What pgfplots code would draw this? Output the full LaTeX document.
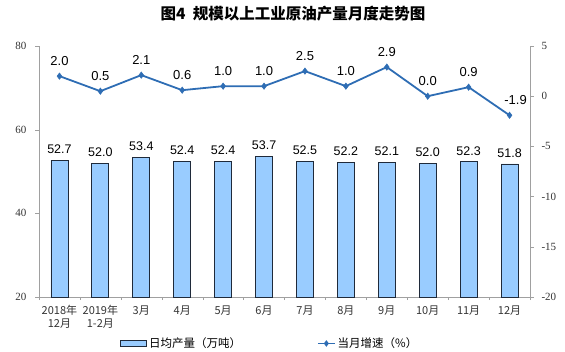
\documentclass[border=0pt]{standalone}
\usepackage{pgfplots}
\pgfplotsset{compat=1.18}
\usepackage{fontspec}
\setmainfont{Liberation Serif}
\newfontfamily\cjk{Noto Sans CJK SC}
\newfontfamily\arial{Liberation Sans}
\definecolor{barfill}{HTML}{99CCFF}
\definecolor{baredge}{HTML}{1F2A3A}
\definecolor{linec}{HTML}{2E6DB4}
\definecolor{axgray}{HTML}{A0A0A0}
\begin{document}
\begin{tikzpicture}[x=1pt,y=1pt]
\path[use as bounding box] (-39,-54) rectangle (526,297);
\begin{axis}[
  at={(0,0)}, anchor=south west,
  scale only axis, width=491pt, height=251pt,
  xmin=-0.5, xmax=11.5, ymin=20, ymax=80,
  ytick={20,40,60,80},
  axis y line*=left, axis x line*=bottom,
  axis line style={axgray, line width=0.6pt},
  y axis line style={-}, x axis line style={-},
  xtick={0,...,11},
  xticklabels={{2018年\\12月},{2019年\\1-2月},3月,4月,5月,6月,7月,8月,9月,10月,11月,12月},
  xticklabel style={font=\cjk\fontsize{11}{12.5}\selectfont, align=center, text=black!80, yshift=-1pt},
  major x tick style={draw=none},
  minor xtick={-0.5,0.5,...,11.5},
  minor x tick style={axgray},
  minor tick length=3pt,
  ytick style={axgray},
  major tick length=4pt,
  tick align=outside,
  yticklabel style={font=\fontsize{11}{12}\selectfont, text=black!80, xshift=-5pt},
  /pgf/number format/assume math mode=true,
  legend columns=2,
  legend style={at={(0.47,-0.185)}, anchor=center, draw=none, fill=none,
    font=\cjk\fontsize{11.5}{13}\selectfont, /tikz/every even column/.append style={column sep=74pt}},
]
\addplot[ybar, bar width=17pt, fill=barfill, draw=baredge, line width=0.8pt,
  legend image code/.code={\draw[fill=barfill, draw=baredge, line width=0.8pt] (0pt,-3pt) rectangle (26pt,3pt);},
  nodes near coords, nodes near coords style={font=\arial\fontsize{12.5}{15}\selectfont, text=black, yshift=3pt},
  /pgf/number format/fixed, /pgf/number format/fixed zerofill, /pgf/number format/precision=1]
  coordinates {(0,52.7)(1,52.0)(2,53.4)(3,52.4)(4,52.4)(5,53.7)(6,52.5)(7,52.2)(8,52.1)(9,52.0)(10,52.3)(11,51.8)};
\addlegendentry{日均产量（万吨）}
\addlegendimage{linec, line width=1.6pt, mark=diamond*, mark size=2pt, mark options={fill=linec}}
\addlegendentry{当月增速（\%）}
\end{axis}
\begin{axis}[
  at={(0,0)}, anchor=south west,
  scale only axis, width=491pt, height=251pt,
  xmin=-0.5, xmax=11.5, ymin=-20, ymax=5,
  ytick={-20,-15,-10,-5,0,5},
  yticklabels={-20,-15,-10,-5,0,5},
  axis y line*=right, hide x axis,
  axis line style={axgray, line width=0.6pt},
  y axis line style={-},
  ytick style={axgray},
  major tick length=4pt,
  tick align=outside,
  /pgf/number format/assume math mode=true,
  yticklabel style={font=\fontsize{11}{12}\selectfont, text=black!80, xshift=4pt},
]
\addplot[linec, line width=1.8pt, mark=diamond*, mark size=3.2pt, mark options={fill=linec, line width=0.5pt}]
  coordinates {(0,2.0)(1,0.5)(2,2.1)(3,0.6)(4,1.0)(5,1.0)(6,2.5)(7,1.0)(8,2.9)(9,0.0)(10,0.9)(11,-1.9)};
\addplot[draw=none, mark=none,
  nodes near coords, nodes near coords style={font=\arial\fontsize{13}{15}\selectfont, text=black, yshift=7pt},
  /pgf/number format/fixed, /pgf/number format/fixed zerofill, /pgf/number format/precision=1]
  coordinates {(0,2.0)(1,0.5)(2,2.1)(3,0.6)(4,1.0)(5,1.0)(6,2.5)(7,1.0)(8,2.9)(9,0.0)(10,0.9)};
\addplot[draw=none, mark=none,
  nodes near coords, nodes near coords style={font=\arial\fontsize{13}{15}\selectfont, text=black, yshift=23pt, xshift=6pt},
  /pgf/number format/fixed, /pgf/number format/fixed zerofill, /pgf/number format/precision=1]
  coordinates {(11,-1.9)};
\end{axis}
\node[font=\cjk\bfseries\fontsize{15.5}{17}\selectfont] at (254,283) {图4\ \ 规模以上工业原油产量月度走势图};
\end{tikzpicture}
\end{document}
